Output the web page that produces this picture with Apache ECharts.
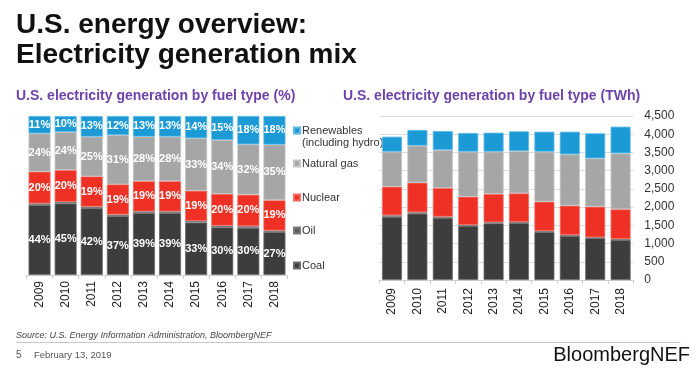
<!DOCTYPE html>
<html>
<head>
<meta charset="utf-8">
<script src="https://cdn.jsdelivr.net/npm/echarts@6/dist/echarts.min.js"></script>
<style>
html,body{margin:0;padding:0;background:#fff;}
#c{width:697px;height:380px;}
</style>
</head>
<body>
<div id="c"></div>
<script>
// ---- data ----
var years = ['2009','2010','2011','2012','2013','2014','2015','2016','2017','2018'];
var seriesNames = ['Coal','Oil','Nuclear','Natural gas','Renewables'];
// share of generation (%) as labelled
var pctCoal = [44,45,42,37,39,39,33,30,30,27];
var pctOil = [1,1,1,1,1,1,1,1,1,1];
var pctNuclear = [20,20,19,19,19,19,19,20,20,19];
var pctGas = [24,24,25,31,28,28,33,34,32,35];
var pctRenew = [11,10,13,12,13,13,14,15,18,18];
// generation (TWh)
var twhCoal = [1735,1820,1705,1485,1555,1562,1317,1210,1150,1100];
var twhOil = [40,38,33,24,28,30,28,25,21,25];
var twhNuclear = [786,813,786,777,777,786,804,805,841,815];
var twhGas = [960,1015,1043,1235,1161,1162,1372,1408,1326,1536];
var twhRenew = [411,430,521,513,521,539,548,621,686,731];
var twhTicks = {min:0, max:4500, interval:500};

var colors = {
  'Coal':'#3d3d3d', 'Oil':'#5c5c5c', 'Nuclear':'#ee3124',
  'Natural gas':'#a6a6a6', 'Renewables':'#1b9ad6'
};
var borders = {
  'Coal':'#6a6a6a', 'Oil':'#7a7a7a', 'Nuclear':'#f46a60',
  'Natural gas':'#c4c4c4', 'Renewables':'#5bb9e6'
};

var pctSets = [pctCoal,pctOil,pctNuclear,pctGas,pctRenew];
var twhSets = [twhCoal,twhOil,twhNuclear,twhGas,twhRenew];
var totals = years.map(function(y,i){var s=0;pctSets.forEach(function(a){s+=a[i];});return s;});

var series = [];
seriesNames.forEach(function(name,k){
  series.push({
    name:name, type:'bar', stack:'pct', xAxisIndex:0, yAxisIndex:0,
    barWidth:22,
    itemStyle:{color:colors[name], borderColor:borders[name], borderWidth:0.8},
    label:{show:name!=='Oil', position:'inside', color:'#fff', fontSize:11, fontWeight:'bold',
      fontFamily:'Liberation Sans',
      formatter:function(p){return pctSets[k][p.dataIndex]+'%';}},
    data: pctSets[k].map(function(v,i){return v/totals[i]*100;})
  });
});
seriesNames.forEach(function(name,k){
  series.push({
    name:name, type:'bar', stack:'twh', xAxisIndex:1, yAxisIndex:1,
    barWidth:20,
    itemStyle:{color:colors[name], borderColor:borders[name], borderWidth:0.8},
    data: twhSets[k]
  });
});

var legendItems = [
  {name:'Renewables', top:125},
  {name:'Natural gas', top:158},
  {name:'Nuclear', top:192},
  {name:'Oil', top:225},
  {name:'Coal', top:260}
];
var legends = legendItems.map(function(it){
  return {data:[it.name], left:293, top:it.top, padding:0, icon:'rect', itemWidth:6, itemHeight:6, itemGap:3,
    selectedMode:false,
    textStyle:{fontSize:11, color:'#333', fontFamily:'Liberation Sans', padding:[0,0,0,-3]}};
});

var xLabel = {rotate:90, fontSize:12, color:'#222', fontFamily:'Liberation Sans', margin:6};

var option = {
  animation:false,
  textStyle:{fontFamily:'Liberation Sans'},
  legend: legends,
  grid:[
    {left:26.5, top:116, width:261, height:159},
    {left:379.3, top:116, width:254, height:164}
  ],
  xAxis:[
    {type:'category', gridIndex:0, data:years,
     axisLine:{lineStyle:{color:'#d0d0d0'}}, axisTick:{show:true, lineStyle:{color:'#d0d0d0'}, length:4},
     axisLabel:xLabel},
    {type:'category', gridIndex:1, data:years,
     axisLine:{lineStyle:{color:'#d0d0d0'}}, axisTick:{show:true, lineStyle:{color:'#d0d0d0'}, length:4},
     axisLabel:Object.assign({}, xLabel, {margin:8})}
  ],
  yAxis:[
    {type:'value', gridIndex:0, min:0, max:100, show:false, splitLine:{show:false}},
    {type:'value', gridIndex:1, position:'right', min:twhTicks.min, max:twhTicks.max, interval:twhTicks.interval,
     axisLine:{show:false}, axisTick:{show:false},
     splitLine:{lineStyle:{color:'#dcdcdc'}},
     axisLabel:{fontSize:12, color:'#333', margin:11, fontFamily:'Liberation Sans',
       formatter:function(v){return v.toLocaleString('en-US');}}}
  ],
  graphic:[
    {type:'text', left:16, top:10, style:{text:'U.S. energy overview:\nElectricity generation mix', font:'bold 28px "Liberation Sans"', fill:'#111', lineHeight:30}},
    {type:'text', left:16, top:89, style:{text:'U.S. electricity generation by fuel type (%)', font:'bold 14px "Liberation Sans"', fill:'#6f42ab'}},
    {type:'text', left:343, top:89, style:{text:'U.S. electricity generation by fuel type (TWh)', font:'bold 14px "Liberation Sans"', fill:'#6f42ab'}},
    {type:'text', left:302, top:137, style:{text:'(including hydro)', font:'11px "Liberation Sans"', fill:'#333'}},
    {type:'text', left:16, top:331, style:{text:'Source: U.S. Energy Information Administration, BloombergNEF', font:'italic 9px "Liberation Sans"', fill:'#444'}},
    {type:'line', shape:{x1:16, y1:342.5, x2:680, y2:342.5}, style:{stroke:'#c9c3dd', lineWidth:1}},
    {type:'text', left:16, top:350, style:{text:'5', font:'10px "Liberation Sans"', fill:'#555'}},
    {type:'text', left:34, top:350, style:{text:'February 13, 2019', font:'9.5px "Liberation Sans"', fill:'#555'}},
    {type:'text', right:7, top:345, style:{text:'BloombergNEF', font:'20px "Liberation Sans"', fill:'#111'}}
  ],
  series: series
};

var chart = echarts.init(document.getElementById('c'), null, {renderer:'canvas'});
chart.setOption(option);
</script>
</body>
</html>
